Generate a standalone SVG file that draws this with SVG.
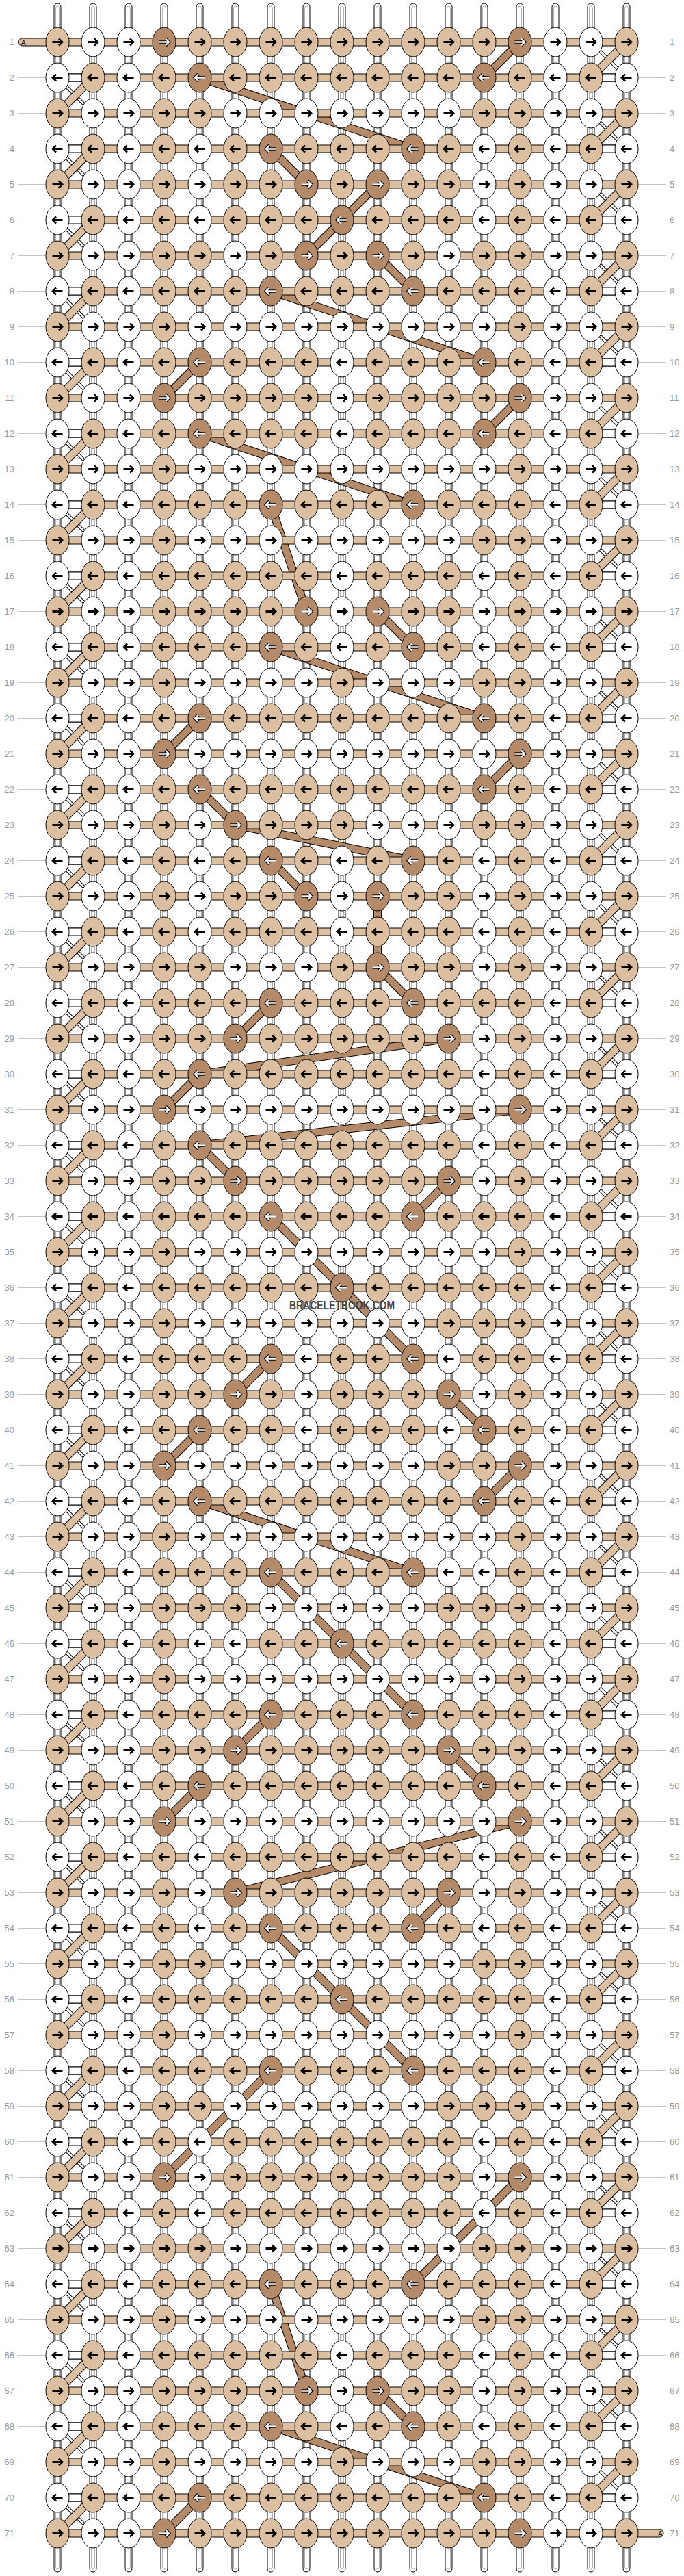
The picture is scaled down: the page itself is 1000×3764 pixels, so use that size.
<svg xmlns="http://www.w3.org/2000/svg" xmlns:xlink="http://www.w3.org/1999/xlink" width="1000" height="3764" viewBox="0 0 1000 3764">
<style>
.nt{fill:#dcbea0;stroke:#000;stroke-width:1}
.nw{fill:#fff;stroke:#000;stroke-width:1}
.nb{fill:#b48a69;stroke:#000;stroke-width:1}
.ak{fill:none;stroke:#000;stroke-width:2.8}
.ao{fill:none;stroke:#000;stroke-width:4.6}
.ai{fill:none;stroke:#fff;stroke-width:2.4}
.tb{fill:#dcbea0;stroke:#000;stroke-width:1}
.wb{fill:#fff;stroke:#000;stroke-width:1}
.sw{fill:#fff;stroke:#000;stroke-width:1}
.sg{fill:none;stroke:#b4b4b4;stroke-width:1}
.do{stroke:#000;stroke-width:12}
.di{stroke:#dcbea0;stroke-width:10}
.xo{stroke:#000;stroke-width:5}
.xi{stroke:#fff;stroke-width:3}
.bo{fill:none;stroke:#000;stroke-width:12}
.bi{fill:none;stroke:#b48a69;stroke-width:10}
.ll{fill:none;stroke:#c4c4c4;stroke-width:1}
.num{font-family:"Liberation Sans",Arial,sans-serif;font-size:13px;fill:#9a9a9a}
.lab{font-family:"Liberation Sans",Arial,sans-serif;font-size:10px;fill:#000}
.wm{font-family:"Liberation Sans",Arial,sans-serif;font-size:16px;font-weight:bold;fill:#454545}
</style>
<defs>
<g id="st"><rect x="-5" y="5" width="10" height="3753" rx="5" class="sw"/><rect x="-2.5" y="9" width="5" height="3745" rx="2.5" class="sg"/></g>
<path id="aR" d="M-7.5,0H6M2,-5L7,0L2,5"/>
<path id="aL" d="M7.5,0H-6M-2,-5L-7,0L-2,5"/>
<ellipse id="el" rx="17" ry="21.5"/>
<g id="t"><use href="#el" class="nt"/><use href="#aR" class="ak"/></g>
<g id="w"><use href="#el" class="nw"/><use href="#aR" class="ak"/></g>
<g id="b"><use href="#el" class="nb"/><use href="#aR" class="ao"/><use href="#aR" class="ai"/></g>
<g id="T"><use href="#el" class="nt"/><use href="#aL" class="ak"/></g>
<g id="W"><use href="#el" class="nw"/><use href="#aL" class="ak"/></g>
<g id="B"><use href="#el" class="nb"/><use href="#aL" class="ao"/><use href="#aL" class="ai"/></g>
<rect id="hb" x="84" y="-5.5" width="832" height="11" class="tb"/>
<g id="he"><use href="#hb"/><rect x="84" y="-5.5" width="52" height="11" class="wb"/><rect x="864" y="-5.5" width="52" height="11" class="wb"/></g>
<g id="dl"><line x1="92" y1="8" x2="128" y2="44" class="xo"/><line x1="92" y1="8" x2="128" y2="44" class="xi"/><line x1="136" y1="0" x2="84" y2="52" class="do"/><line x1="136" y1="0" x2="84" y2="52" class="di"/></g>
<g id="dr"><line x1="872" y1="8" x2="908" y2="44" class="xo"/><line x1="872" y1="8" x2="908" y2="44" class="xi"/><line x1="916" y1="0" x2="864" y2="52" class="do"/><line x1="916" y1="0" x2="864" y2="52" class="di"/></g>
<path id="bp" d="M760,61.5L708,113.5M292,113.5L604,217.5M396,217.5L448,269.5M552,269.5L500,321.5L448,373.5M552,373.5L604,425.5M396,425.5L708,529.5M292,529.5L240,581.5M760,581.5L708,633.5M292,633.5L604,737.5M396,737.5L448,893.5M552,893.5L604,945.5M396,945.5L708,1049.5M292,1049.5L240,1101.5M760,1101.5L708,1153.5M292,1153.5L344,1205.5L604,1257.5M396,1257.5L448,1309.5M552,1309.5L552,1413.5L604,1465.5M396,1465.5L344,1517.5M656,1517.5L292,1569.5L240,1621.5M760,1621.5L292,1673.5L344,1725.5M656,1725.5L604,1777.5M396,1777.5L500,1881.5L604,1985.5M396,1985.5L344,2037.5M656,2037.5L708,2089.5M292,2089.5L240,2141.5M760,2141.5L708,2193.5M292,2193.5L604,2297.5M396,2297.5L500,2401.5L604,2505.5M396,2505.5L344,2557.5M656,2557.5L708,2609.5M292,2609.5L240,2661.5M760,2661.5L344,2765.5M656,2765.5L604,2817.5M396,2817.5L500,2921.5L604,3025.5M396,3025.5L240,3181.5M760,3181.5L604,3337.5M396,3337.5L448,3493.5M552,3493.5L604,3545.5M396,3545.5L708,3649.5M292,3649.5L240,3701.5"/>
</defs>
<rect width="1000" height="3764" fill="#fff"/>
<g id="labels">
<path class="ll" d="M26,113.5h41m-41,52h41m-41,52h41m-41,52h41m-41,52h41m-41,52h41m-41,52h41m-41,52h41m-41,52h41m-41,52h41m-41,52h41m-41,52h41m-41,52h41m-41,52h41m-41,52h41m-41,52h41m-41,52h41m-41,52h41m-41,52h41m-41,52h41m-41,52h41m-41,52h41m-41,52h41m-41,52h41m-41,52h41m-41,52h41m-41,52h41m-41,52h41m-41,52h41m-41,52h41m-41,52h41m-41,52h41m-41,52h41m-41,52h41m-41,52h41m-41,52h41m-41,52h41m-41,52h41m-41,52h41m-41,52h41m-41,52h41m-41,52h41m-41,52h41m-41,52h41m-41,52h41m-41,52h41m-41,52h41m-41,52h41m-41,52h41m-41,52h41m-41,52h41m-41,52h41m-41,52h41m-41,52h41m-41,52h41m-41,52h41m-41,52h41m-41,52h41m-41,52h41m-41,52h41m-41,52h41m-41,52h41m-41,52h41m-41,52h41m-41,52h41m-41,52h41m-41,52h41m-41,52h41"/>
<path class="ll" d="M933,61.5h40m-40,52h40m-40,52h40m-40,52h40m-40,52h40m-40,52h40m-40,52h40m-40,52h40m-40,52h40m-40,52h40m-40,52h40m-40,52h40m-40,52h40m-40,52h40m-40,52h40m-40,52h40m-40,52h40m-40,52h40m-40,52h40m-40,52h40m-40,52h40m-40,52h40m-40,52h40m-40,52h40m-40,52h40m-40,52h40m-40,52h40m-40,52h40m-40,52h40m-40,52h40m-40,52h40m-40,52h40m-40,52h40m-40,52h40m-40,52h40m-40,52h40m-40,52h40m-40,52h40m-40,52h40m-40,52h40m-40,52h40m-40,52h40m-40,52h40m-40,52h40m-40,52h40m-40,52h40m-40,52h40m-40,52h40m-40,52h40m-40,52h40m-40,52h40m-40,52h40m-40,52h40m-40,52h40m-40,52h40m-40,52h40m-40,52h40m-40,52h40m-40,52h40m-40,52h40m-40,52h40m-40,52h40m-40,52h40m-40,52h40m-40,52h40m-40,52h40m-40,52h40"/>
<g class="num" text-anchor="end">
<text x="21" y="66">1</text><text x="21" y="118">2</text><text x="21" y="170">3</text><text x="21" y="222">4</text><text x="21" y="274">5</text><text x="21" y="326">6</text><text x="21" y="378">7</text><text x="21" y="430">8</text><text x="21" y="482">9</text><text x="21" y="534">10</text><text x="21" y="586">11</text><text x="21" y="638">12</text><text x="21" y="690">13</text><text x="21" y="742">14</text><text x="21" y="794">15</text><text x="21" y="846">16</text><text x="21" y="898">17</text><text x="21" y="950">18</text><text x="21" y="1002">19</text><text x="21" y="1054">20</text><text x="21" y="1106">21</text><text x="21" y="1158">22</text><text x="21" y="1210">23</text><text x="21" y="1262">24</text><text x="21" y="1314">25</text><text x="21" y="1366">26</text><text x="21" y="1418">27</text><text x="21" y="1470">28</text><text x="21" y="1522">29</text><text x="21" y="1574">30</text><text x="21" y="1626">31</text><text x="21" y="1678">32</text><text x="21" y="1730">33</text><text x="21" y="1782">34</text><text x="21" y="1834">35</text><text x="21" y="1886">36</text><text x="21" y="1938">37</text><text x="21" y="1990">38</text><text x="21" y="2042">39</text><text x="21" y="2094">40</text><text x="21" y="2146">41</text><text x="21" y="2198">42</text><text x="21" y="2250">43</text><text x="21" y="2302">44</text><text x="21" y="2354">45</text><text x="21" y="2406">46</text><text x="21" y="2458">47</text><text x="21" y="2510">48</text><text x="21" y="2562">49</text><text x="21" y="2614">50</text><text x="21" y="2666">51</text><text x="21" y="2718">52</text><text x="21" y="2770">53</text><text x="21" y="2822">54</text><text x="21" y="2874">55</text><text x="21" y="2926">56</text><text x="21" y="2978">57</text><text x="21" y="3030">58</text><text x="21" y="3082">59</text><text x="21" y="3134">60</text><text x="21" y="3186">61</text><text x="21" y="3238">62</text><text x="21" y="3290">63</text><text x="21" y="3342">64</text><text x="21" y="3394">65</text><text x="21" y="3446">66</text><text x="21" y="3498">67</text><text x="21" y="3550">68</text><text x="21" y="3602">69</text><text x="21" y="3654">70</text><text x="21" y="3706">71</text>
</g>
<g class="num">
<text x="979" y="66">1</text><text x="979" y="118">2</text><text x="979" y="170">3</text><text x="979" y="222">4</text><text x="979" y="274">5</text><text x="979" y="326">6</text><text x="979" y="378">7</text><text x="979" y="430">8</text><text x="979" y="482">9</text><text x="979" y="534">10</text><text x="979" y="586">11</text><text x="979" y="638">12</text><text x="979" y="690">13</text><text x="979" y="742">14</text><text x="979" y="794">15</text><text x="979" y="846">16</text><text x="979" y="898">17</text><text x="979" y="950">18</text><text x="979" y="1002">19</text><text x="979" y="1054">20</text><text x="979" y="1106">21</text><text x="979" y="1158">22</text><text x="979" y="1210">23</text><text x="979" y="1262">24</text><text x="979" y="1314">25</text><text x="979" y="1366">26</text><text x="979" y="1418">27</text><text x="979" y="1470">28</text><text x="979" y="1522">29</text><text x="979" y="1574">30</text><text x="979" y="1626">31</text><text x="979" y="1678">32</text><text x="979" y="1730">33</text><text x="979" y="1782">34</text><text x="979" y="1834">35</text><text x="979" y="1886">36</text><text x="979" y="1938">37</text><text x="979" y="1990">38</text><text x="979" y="2042">39</text><text x="979" y="2094">40</text><text x="979" y="2146">41</text><text x="979" y="2198">42</text><text x="979" y="2250">43</text><text x="979" y="2302">44</text><text x="979" y="2354">45</text><text x="979" y="2406">46</text><text x="979" y="2458">47</text><text x="979" y="2510">48</text><text x="979" y="2562">49</text><text x="979" y="2614">50</text><text x="979" y="2666">51</text><text x="979" y="2718">52</text><text x="979" y="2770">53</text><text x="979" y="2822">54</text><text x="979" y="2874">55</text><text x="979" y="2926">56</text><text x="979" y="2978">57</text><text x="979" y="3030">58</text><text x="979" y="3082">59</text><text x="979" y="3134">60</text><text x="979" y="3186">61</text><text x="979" y="3238">62</text><text x="979" y="3290">63</text><text x="979" y="3342">64</text><text x="979" y="3394">65</text><text x="979" y="3446">66</text><text x="979" y="3498">67</text><text x="979" y="3550">68</text><text x="979" y="3602">69</text><text x="979" y="3654">70</text><text x="979" y="3706">71</text>
</g>
</g>
<g id="connectors">
<g id="strands"><use href="#st" x="84"/><use href="#st" x="136"/><use href="#st" x="188"/><use href="#st" x="240"/><use href="#st" x="292"/><use href="#st" x="344"/><use href="#st" x="396"/><use href="#st" x="448"/><use href="#st" x="500"/><use href="#st" x="552"/><use href="#st" x="604"/><use href="#st" x="656"/><use href="#st" x="708"/><use href="#st" x="760"/><use href="#st" x="812"/><use href="#st" x="864"/><use href="#st" x="916"/></g>
<g id="brown"><use href="#bp" class="bo"/><use href="#bp" class="bi"/></g>
<g id="bands">
<rect x="27" y="56" width="62" height="11" rx="5.5" class="tb"/><rect x="911" y="3696" width="59" height="11" rx="5.5" class="tb"/>
<use href="#hb" y="61.5"/><use href="#he" y="113.5"/><use href="#hb" y="165.5"/><use href="#he" y="217.5"/><use href="#hb" y="269.5"/><use href="#he" y="321.5"/><use href="#hb" y="373.5"/><use href="#he" y="425.5"/><use href="#hb" y="477.5"/><use href="#he" y="529.5"/><use href="#hb" y="581.5"/><use href="#he" y="633.5"/><use href="#hb" y="685.5"/><use href="#he" y="737.5"/><use href="#hb" y="789.5"/><use href="#he" y="841.5"/><use href="#hb" y="893.5"/><use href="#he" y="945.5"/><use href="#hb" y="997.5"/><use href="#he" y="1049.5"/><use href="#hb" y="1101.5"/><use href="#he" y="1153.5"/><use href="#hb" y="1205.5"/><use href="#he" y="1257.5"/><use href="#hb" y="1309.5"/><use href="#he" y="1361.5"/><use href="#hb" y="1413.5"/><use href="#he" y="1465.5"/><use href="#hb" y="1517.5"/><use href="#he" y="1569.5"/><use href="#hb" y="1621.5"/><use href="#he" y="1673.5"/><use href="#hb" y="1725.5"/><use href="#he" y="1777.5"/><use href="#hb" y="1829.5"/><use href="#he" y="1881.5"/><use href="#hb" y="1933.5"/><use href="#he" y="1985.5"/><use href="#hb" y="2037.5"/><use href="#he" y="2089.5"/><use href="#hb" y="2141.5"/><use href="#he" y="2193.5"/><use href="#hb" y="2245.5"/><use href="#he" y="2297.5"/><use href="#hb" y="2349.5"/><use href="#he" y="2401.5"/><use href="#hb" y="2453.5"/><use href="#he" y="2505.5"/><use href="#hb" y="2557.5"/><use href="#he" y="2609.5"/><use href="#hb" y="2661.5"/><use href="#he" y="2713.5"/><use href="#hb" y="2765.5"/><use href="#he" y="2817.5"/><use href="#hb" y="2869.5"/><use href="#he" y="2921.5"/><use href="#hb" y="2973.5"/><use href="#he" y="3025.5"/><use href="#hb" y="3077.5"/><use href="#he" y="3129.5"/><use href="#hb" y="3181.5"/><use href="#he" y="3233.5"/><use href="#hb" y="3285.5"/><use href="#he" y="3337.5"/><use href="#hb" y="3389.5"/><use href="#he" y="3441.5"/><use href="#hb" y="3493.5"/><use href="#he" y="3545.5"/><use href="#hb" y="3597.5"/><use href="#he" y="3649.5"/><use href="#hb" y="3701.5"/>
<text x="31" y="65.5" class="lab">A</text><text x="962" y="3705.5" class="lab">A</text>
</g>
<g id="edges">
<use href="#dr" y="61.5"/><use href="#dl" y="113.5"/><use href="#dr" y="165.5"/><use href="#dl" y="217.5"/><use href="#dr" y="269.5"/><use href="#dl" y="321.5"/><use href="#dr" y="373.5"/><use href="#dl" y="425.5"/><use href="#dr" y="477.5"/><use href="#dl" y="529.5"/><use href="#dr" y="581.5"/><use href="#dl" y="633.5"/><use href="#dr" y="685.5"/><use href="#dl" y="737.5"/><use href="#dr" y="789.5"/><use href="#dl" y="841.5"/><use href="#dr" y="893.5"/><use href="#dl" y="945.5"/><use href="#dr" y="997.5"/><use href="#dl" y="1049.5"/><use href="#dr" y="1101.5"/><use href="#dl" y="1153.5"/><use href="#dr" y="1205.5"/><use href="#dl" y="1257.5"/><use href="#dr" y="1309.5"/><use href="#dl" y="1361.5"/><use href="#dr" y="1413.5"/><use href="#dl" y="1465.5"/><use href="#dr" y="1517.5"/><use href="#dl" y="1569.5"/><use href="#dr" y="1621.5"/><use href="#dl" y="1673.5"/><use href="#dr" y="1725.5"/><use href="#dl" y="1777.5"/><use href="#dr" y="1829.5"/><use href="#dl" y="1881.5"/><use href="#dr" y="1933.5"/><use href="#dl" y="1985.5"/><use href="#dr" y="2037.5"/><use href="#dl" y="2089.5"/><use href="#dr" y="2141.5"/><use href="#dl" y="2193.5"/><use href="#dr" y="2245.5"/><use href="#dl" y="2297.5"/><use href="#dr" y="2349.5"/><use href="#dl" y="2401.5"/><use href="#dr" y="2453.5"/><use href="#dl" y="2505.5"/><use href="#dr" y="2557.5"/><use href="#dl" y="2609.5"/><use href="#dr" y="2661.5"/><use href="#dl" y="2713.5"/><use href="#dr" y="2765.5"/><use href="#dl" y="2817.5"/><use href="#dr" y="2869.5"/><use href="#dl" y="2921.5"/><use href="#dr" y="2973.5"/><use href="#dl" y="3025.5"/><use href="#dr" y="3077.5"/><use href="#dl" y="3129.5"/><use href="#dr" y="3181.5"/><use href="#dl" y="3233.5"/><use href="#dr" y="3285.5"/><use href="#dl" y="3337.5"/><use href="#dr" y="3389.5"/><use href="#dl" y="3441.5"/><use href="#dr" y="3493.5"/><use href="#dl" y="3545.5"/><use href="#dr" y="3597.5"/><use href="#dl" y="3649.5"/>
</g>
</g>
<g id="nodes">
<g id="r1" transform="translate(0,61.5)"><g id="n1-1"><use href="#t" x="84"/></g><g id="n1-2"><use href="#w" x="136"/></g><g id="n1-3"><use href="#w" x="188"/></g><g id="n1-4"><use href="#b" x="240"/></g><g id="n1-5"><use href="#t" x="292"/></g><g id="n1-6"><use href="#t" x="344"/></g><g id="n1-7"><use href="#t" x="396"/></g><g id="n1-8"><use href="#t" x="448"/></g><g id="n1-9"><use href="#t" x="500"/></g><g id="n1-10"><use href="#t" x="552"/></g><g id="n1-11"><use href="#t" x="604"/></g><g id="n1-12"><use href="#t" x="656"/></g><g id="n1-13"><use href="#t" x="708"/></g><g id="n1-14"><use href="#b" x="760"/></g><g id="n1-15"><use href="#w" x="812"/></g><g id="n1-16"><use href="#w" x="864"/></g><g id="n1-17"><use href="#t" x="916"/></g></g>
<g id="r2" transform="translate(0,113.5)"><g id="n2-1"><use href="#W" x="84"/></g><g id="n2-2"><use href="#T" x="136"/></g><g id="n2-3"><use href="#W" x="188"/></g><g id="n2-4"><use href="#T" x="240"/></g><g id="n2-5"><use href="#B" x="292"/></g><g id="n2-6"><use href="#T" x="344"/></g><g id="n2-7"><use href="#T" x="396"/></g><g id="n2-8"><use href="#T" x="448"/></g><g id="n2-9"><use href="#T" x="500"/></g><g id="n2-10"><use href="#T" x="552"/></g><g id="n2-11"><use href="#T" x="604"/></g><g id="n2-12"><use href="#T" x="656"/></g><g id="n2-13"><use href="#B" x="708"/></g><g id="n2-14"><use href="#T" x="760"/></g><g id="n2-15"><use href="#W" x="812"/></g><g id="n2-16"><use href="#T" x="864"/></g><g id="n2-17"><use href="#W" x="916"/></g></g>
<g id="r3" transform="translate(0,165.5)"><g id="n3-1"><use href="#t" x="84"/></g><g id="n3-2"><use href="#w" x="136"/></g><g id="n3-3"><use href="#w" x="188"/></g><g id="n3-4"><use href="#t" x="240"/></g><g id="n3-5"><use href="#t" x="292"/></g><g id="n3-6"><use href="#w" x="344"/></g><g id="n3-7"><use href="#w" x="396"/></g><g id="n3-8"><use href="#w" x="448"/></g><g id="n3-9"><use href="#w" x="500"/></g><g id="n3-10"><use href="#w" x="552"/></g><g id="n3-11"><use href="#w" x="604"/></g><g id="n3-12"><use href="#w" x="656"/></g><g id="n3-13"><use href="#t" x="708"/></g><g id="n3-14"><use href="#t" x="760"/></g><g id="n3-15"><use href="#w" x="812"/></g><g id="n3-16"><use href="#w" x="864"/></g><g id="n3-17"><use href="#t" x="916"/></g></g>
<g id="r4" transform="translate(0,217.5)"><g id="n4-1"><use href="#W" x="84"/></g><g id="n4-2"><use href="#T" x="136"/></g><g id="n4-3"><use href="#W" x="188"/></g><g id="n4-4"><use href="#T" x="240"/></g><g id="n4-5"><use href="#W" x="292"/></g><g id="n4-6"><use href="#T" x="344"/></g><g id="n4-7"><use href="#B" x="396"/></g><g id="n4-8"><use href="#T" x="448"/></g><g id="n4-9"><use href="#T" x="500"/></g><g id="n4-10"><use href="#T" x="552"/></g><g id="n4-11"><use href="#B" x="604"/></g><g id="n4-12"><use href="#T" x="656"/></g><g id="n4-13"><use href="#W" x="708"/></g><g id="n4-14"><use href="#T" x="760"/></g><g id="n4-15"><use href="#W" x="812"/></g><g id="n4-16"><use href="#T" x="864"/></g><g id="n4-17"><use href="#W" x="916"/></g></g>
<g id="r5" transform="translate(0,269.5)"><g id="n5-1"><use href="#t" x="84"/></g><g id="n5-2"><use href="#w" x="136"/></g><g id="n5-3"><use href="#w" x="188"/></g><g id="n5-4"><use href="#t" x="240"/></g><g id="n5-5"><use href="#w" x="292"/></g><g id="n5-6"><use href="#t" x="344"/></g><g id="n5-7"><use href="#t" x="396"/></g><g id="n5-8"><use href="#b" x="448"/></g><g id="n5-9"><use href="#t" x="500"/></g><g id="n5-10"><use href="#b" x="552"/></g><g id="n5-11"><use href="#t" x="604"/></g><g id="n5-12"><use href="#t" x="656"/></g><g id="n5-13"><use href="#w" x="708"/></g><g id="n5-14"><use href="#t" x="760"/></g><g id="n5-15"><use href="#w" x="812"/></g><g id="n5-16"><use href="#w" x="864"/></g><g id="n5-17"><use href="#t" x="916"/></g></g>
<g id="r6" transform="translate(0,321.5)"><g id="n6-1"><use href="#W" x="84"/></g><g id="n6-2"><use href="#T" x="136"/></g><g id="n6-3"><use href="#W" x="188"/></g><g id="n6-4"><use href="#T" x="240"/></g><g id="n6-5"><use href="#W" x="292"/></g><g id="n6-6"><use href="#T" x="344"/></g><g id="n6-7"><use href="#T" x="396"/></g><g id="n6-8"><use href="#T" x="448"/></g><g id="n6-9"><use href="#B" x="500"/></g><g id="n6-10"><use href="#T" x="552"/></g><g id="n6-11"><use href="#T" x="604"/></g><g id="n6-12"><use href="#T" x="656"/></g><g id="n6-13"><use href="#W" x="708"/></g><g id="n6-14"><use href="#T" x="760"/></g><g id="n6-15"><use href="#W" x="812"/></g><g id="n6-16"><use href="#T" x="864"/></g><g id="n6-17"><use href="#W" x="916"/></g></g>
<g id="r7" transform="translate(0,373.5)"><g id="n7-1"><use href="#t" x="84"/></g><g id="n7-2"><use href="#w" x="136"/></g><g id="n7-3"><use href="#w" x="188"/></g><g id="n7-4"><use href="#t" x="240"/></g><g id="n7-5"><use href="#t" x="292"/></g><g id="n7-6"><use href="#w" x="344"/></g><g id="n7-7"><use href="#t" x="396"/></g><g id="n7-8"><use href="#b" x="448"/></g><g id="n7-9"><use href="#t" x="500"/></g><g id="n7-10"><use href="#b" x="552"/></g><g id="n7-11"><use href="#t" x="604"/></g><g id="n7-12"><use href="#w" x="656"/></g><g id="n7-13"><use href="#t" x="708"/></g><g id="n7-14"><use href="#t" x="760"/></g><g id="n7-15"><use href="#w" x="812"/></g><g id="n7-16"><use href="#w" x="864"/></g><g id="n7-17"><use href="#t" x="916"/></g></g>
<g id="r8" transform="translate(0,425.5)"><g id="n8-1"><use href="#W" x="84"/></g><g id="n8-2"><use href="#T" x="136"/></g><g id="n8-3"><use href="#W" x="188"/></g><g id="n8-4"><use href="#T" x="240"/></g><g id="n8-5"><use href="#T" x="292"/></g><g id="n8-6"><use href="#T" x="344"/></g><g id="n8-7"><use href="#B" x="396"/></g><g id="n8-8"><use href="#T" x="448"/></g><g id="n8-9"><use href="#T" x="500"/></g><g id="n8-10"><use href="#T" x="552"/></g><g id="n8-11"><use href="#B" x="604"/></g><g id="n8-12"><use href="#T" x="656"/></g><g id="n8-13"><use href="#T" x="708"/></g><g id="n8-14"><use href="#T" x="760"/></g><g id="n8-15"><use href="#W" x="812"/></g><g id="n8-16"><use href="#T" x="864"/></g><g id="n8-17"><use href="#W" x="916"/></g></g>
<g id="r9" transform="translate(0,477.5)"><g id="n9-1"><use href="#t" x="84"/></g><g id="n9-2"><use href="#w" x="136"/></g><g id="n9-3"><use href="#w" x="188"/></g><g id="n9-4"><use href="#t" x="240"/></g><g id="n9-5"><use href="#w" x="292"/></g><g id="n9-6"><use href="#w" x="344"/></g><g id="n9-7"><use href="#w" x="396"/></g><g id="n9-8"><use href="#w" x="448"/></g><g id="n9-9"><use href="#w" x="500"/></g><g id="n9-10"><use href="#w" x="552"/></g><g id="n9-11"><use href="#w" x="604"/></g><g id="n9-12"><use href="#w" x="656"/></g><g id="n9-13"><use href="#w" x="708"/></g><g id="n9-14"><use href="#t" x="760"/></g><g id="n9-15"><use href="#w" x="812"/></g><g id="n9-16"><use href="#w" x="864"/></g><g id="n9-17"><use href="#t" x="916"/></g></g>
<g id="r10" transform="translate(0,529.5)"><g id="n10-1"><use href="#W" x="84"/></g><g id="n10-2"><use href="#T" x="136"/></g><g id="n10-3"><use href="#W" x="188"/></g><g id="n10-4"><use href="#T" x="240"/></g><g id="n10-5"><use href="#B" x="292"/></g><g id="n10-6"><use href="#T" x="344"/></g><g id="n10-7"><use href="#T" x="396"/></g><g id="n10-8"><use href="#T" x="448"/></g><g id="n10-9"><use href="#W" x="500"/></g><g id="n10-10"><use href="#T" x="552"/></g><g id="n10-11"><use href="#T" x="604"/></g><g id="n10-12"><use href="#T" x="656"/></g><g id="n10-13"><use href="#B" x="708"/></g><g id="n10-14"><use href="#T" x="760"/></g><g id="n10-15"><use href="#W" x="812"/></g><g id="n10-16"><use href="#T" x="864"/></g><g id="n10-17"><use href="#W" x="916"/></g></g>
<g id="r11" transform="translate(0,581.5)"><g id="n11-1"><use href="#t" x="84"/></g><g id="n11-2"><use href="#w" x="136"/></g><g id="n11-3"><use href="#w" x="188"/></g><g id="n11-4"><use href="#b" x="240"/></g><g id="n11-5"><use href="#t" x="292"/></g><g id="n11-6"><use href="#t" x="344"/></g><g id="n11-7"><use href="#t" x="396"/></g><g id="n11-8"><use href="#t" x="448"/></g><g id="n11-9"><use href="#w" x="500"/></g><g id="n11-10"><use href="#t" x="552"/></g><g id="n11-11"><use href="#t" x="604"/></g><g id="n11-12"><use href="#t" x="656"/></g><g id="n11-13"><use href="#t" x="708"/></g><g id="n11-14"><use href="#b" x="760"/></g><g id="n11-15"><use href="#w" x="812"/></g><g id="n11-16"><use href="#w" x="864"/></g><g id="n11-17"><use href="#t" x="916"/></g></g>
<g id="r12" transform="translate(0,633.5)"><g id="n12-1"><use href="#W" x="84"/></g><g id="n12-2"><use href="#T" x="136"/></g><g id="n12-3"><use href="#W" x="188"/></g><g id="n12-4"><use href="#T" x="240"/></g><g id="n12-5"><use href="#B" x="292"/></g><g id="n12-6"><use href="#T" x="344"/></g><g id="n12-7"><use href="#T" x="396"/></g><g id="n12-8"><use href="#T" x="448"/></g><g id="n12-9"><use href="#W" x="500"/></g><g id="n12-10"><use href="#T" x="552"/></g><g id="n12-11"><use href="#T" x="604"/></g><g id="n12-12"><use href="#T" x="656"/></g><g id="n12-13"><use href="#B" x="708"/></g><g id="n12-14"><use href="#T" x="760"/></g><g id="n12-15"><use href="#W" x="812"/></g><g id="n12-16"><use href="#T" x="864"/></g><g id="n12-17"><use href="#W" x="916"/></g></g>
<g id="r13" transform="translate(0,685.5)"><g id="n13-1"><use href="#t" x="84"/></g><g id="n13-2"><use href="#w" x="136"/></g><g id="n13-3"><use href="#w" x="188"/></g><g id="n13-4"><use href="#t" x="240"/></g><g id="n13-5"><use href="#w" x="292"/></g><g id="n13-6"><use href="#w" x="344"/></g><g id="n13-7"><use href="#w" x="396"/></g><g id="n13-8"><use href="#w" x="448"/></g><g id="n13-9"><use href="#w" x="500"/></g><g id="n13-10"><use href="#w" x="552"/></g><g id="n13-11"><use href="#w" x="604"/></g><g id="n13-12"><use href="#w" x="656"/></g><g id="n13-13"><use href="#w" x="708"/></g><g id="n13-14"><use href="#t" x="760"/></g><g id="n13-15"><use href="#w" x="812"/></g><g id="n13-16"><use href="#w" x="864"/></g><g id="n13-17"><use href="#t" x="916"/></g></g>
<g id="r14" transform="translate(0,737.5)"><g id="n14-1"><use href="#W" x="84"/></g><g id="n14-2"><use href="#T" x="136"/></g><g id="n14-3"><use href="#W" x="188"/></g><g id="n14-4"><use href="#T" x="240"/></g><g id="n14-5"><use href="#T" x="292"/></g><g id="n14-6"><use href="#T" x="344"/></g><g id="n14-7"><use href="#B" x="396"/></g><g id="n14-8"><use href="#T" x="448"/></g><g id="n14-9"><use href="#T" x="500"/></g><g id="n14-10"><use href="#T" x="552"/></g><g id="n14-11"><use href="#B" x="604"/></g><g id="n14-12"><use href="#T" x="656"/></g><g id="n14-13"><use href="#T" x="708"/></g><g id="n14-14"><use href="#T" x="760"/></g><g id="n14-15"><use href="#W" x="812"/></g><g id="n14-16"><use href="#T" x="864"/></g><g id="n14-17"><use href="#W" x="916"/></g></g>
<g id="r15" transform="translate(0,789.5)"><g id="n15-1"><use href="#t" x="84"/></g><g id="n15-2"><use href="#w" x="136"/></g><g id="n15-3"><use href="#w" x="188"/></g><g id="n15-4"><use href="#t" x="240"/></g><g id="n15-5"><use href="#w" x="292"/></g><g id="n15-6"><use href="#w" x="344"/></g><g id="n15-7"><use href="#w" x="396"/></g><g id="n15-8"><use href="#w" x="448"/></g><g id="n15-9"><use href="#w" x="500"/></g><g id="n15-10"><use href="#w" x="552"/></g><g id="n15-11"><use href="#w" x="604"/></g><g id="n15-12"><use href="#w" x="656"/></g><g id="n15-13"><use href="#t" x="708"/></g><g id="n15-14"><use href="#t" x="760"/></g><g id="n15-15"><use href="#w" x="812"/></g><g id="n15-16"><use href="#w" x="864"/></g><g id="n15-17"><use href="#t" x="916"/></g></g>
<g id="r16" transform="translate(0,841.5)"><g id="n16-1"><use href="#W" x="84"/></g><g id="n16-2"><use href="#T" x="136"/></g><g id="n16-3"><use href="#W" x="188"/></g><g id="n16-4"><use href="#T" x="240"/></g><g id="n16-5"><use href="#T" x="292"/></g><g id="n16-6"><use href="#T" x="344"/></g><g id="n16-7"><use href="#T" x="396"/></g><g id="n16-8"><use href="#T" x="448"/></g><g id="n16-9"><use href="#W" x="500"/></g><g id="n16-10"><use href="#T" x="552"/></g><g id="n16-11"><use href="#T" x="604"/></g><g id="n16-12"><use href="#T" x="656"/></g><g id="n16-13"><use href="#W" x="708"/></g><g id="n16-14"><use href="#T" x="760"/></g><g id="n16-15"><use href="#W" x="812"/></g><g id="n16-16"><use href="#T" x="864"/></g><g id="n16-17"><use href="#W" x="916"/></g></g>
<g id="r17" transform="translate(0,893.5)"><g id="n17-1"><use href="#t" x="84"/></g><g id="n17-2"><use href="#w" x="136"/></g><g id="n17-3"><use href="#w" x="188"/></g><g id="n17-4"><use href="#t" x="240"/></g><g id="n17-5"><use href="#t" x="292"/></g><g id="n17-6"><use href="#t" x="344"/></g><g id="n17-7"><use href="#t" x="396"/></g><g id="n17-8"><use href="#b" x="448"/></g><g id="n17-9"><use href="#w" x="500"/></g><g id="n17-10"><use href="#b" x="552"/></g><g id="n17-11"><use href="#t" x="604"/></g><g id="n17-12"><use href="#t" x="656"/></g><g id="n17-13"><use href="#w" x="708"/></g><g id="n17-14"><use href="#t" x="760"/></g><g id="n17-15"><use href="#w" x="812"/></g><g id="n17-16"><use href="#w" x="864"/></g><g id="n17-17"><use href="#t" x="916"/></g></g>
<g id="r18" transform="translate(0,945.5)"><g id="n18-1"><use href="#W" x="84"/></g><g id="n18-2"><use href="#T" x="136"/></g><g id="n18-3"><use href="#W" x="188"/></g><g id="n18-4"><use href="#T" x="240"/></g><g id="n18-5"><use href="#T" x="292"/></g><g id="n18-6"><use href="#T" x="344"/></g><g id="n18-7"><use href="#B" x="396"/></g><g id="n18-8"><use href="#T" x="448"/></g><g id="n18-9"><use href="#W" x="500"/></g><g id="n18-10"><use href="#T" x="552"/></g><g id="n18-11"><use href="#B" x="604"/></g><g id="n18-12"><use href="#T" x="656"/></g><g id="n18-13"><use href="#W" x="708"/></g><g id="n18-14"><use href="#T" x="760"/></g><g id="n18-15"><use href="#W" x="812"/></g><g id="n18-16"><use href="#T" x="864"/></g><g id="n18-17"><use href="#W" x="916"/></g></g>
<g id="r19" transform="translate(0,997.5)"><g id="n19-1"><use href="#t" x="84"/></g><g id="n19-2"><use href="#w" x="136"/></g><g id="n19-3"><use href="#w" x="188"/></g><g id="n19-4"><use href="#t" x="240"/></g><g id="n19-5"><use href="#w" x="292"/></g><g id="n19-6"><use href="#w" x="344"/></g><g id="n19-7"><use href="#w" x="396"/></g><g id="n19-8"><use href="#w" x="448"/></g><g id="n19-9"><use href="#t" x="500"/></g><g id="n19-10"><use href="#w" x="552"/></g><g id="n19-11"><use href="#w" x="604"/></g><g id="n19-12"><use href="#w" x="656"/></g><g id="n19-13"><use href="#t" x="708"/></g><g id="n19-14"><use href="#t" x="760"/></g><g id="n19-15"><use href="#w" x="812"/></g><g id="n19-16"><use href="#w" x="864"/></g><g id="n19-17"><use href="#t" x="916"/></g></g>
<g id="r20" transform="translate(0,1049.5)"><g id="n20-1"><use href="#W" x="84"/></g><g id="n20-2"><use href="#T" x="136"/></g><g id="n20-3"><use href="#W" x="188"/></g><g id="n20-4"><use href="#T" x="240"/></g><g id="n20-5"><use href="#B" x="292"/></g><g id="n20-6"><use href="#T" x="344"/></g><g id="n20-7"><use href="#T" x="396"/></g><g id="n20-8"><use href="#T" x="448"/></g><g id="n20-9"><use href="#T" x="500"/></g><g id="n20-10"><use href="#T" x="552"/></g><g id="n20-11"><use href="#T" x="604"/></g><g id="n20-12"><use href="#T" x="656"/></g><g id="n20-13"><use href="#B" x="708"/></g><g id="n20-14"><use href="#T" x="760"/></g><g id="n20-15"><use href="#W" x="812"/></g><g id="n20-16"><use href="#T" x="864"/></g><g id="n20-17"><use href="#W" x="916"/></g></g>
<g id="r21" transform="translate(0,1101.5)"><g id="n21-1"><use href="#t" x="84"/></g><g id="n21-2"><use href="#w" x="136"/></g><g id="n21-3"><use href="#w" x="188"/></g><g id="n21-4"><use href="#b" x="240"/></g><g id="n21-5"><use href="#w" x="292"/></g><g id="n21-6"><use href="#w" x="344"/></g><g id="n21-7"><use href="#w" x="396"/></g><g id="n21-8"><use href="#w" x="448"/></g><g id="n21-9"><use href="#w" x="500"/></g><g id="n21-10"><use href="#w" x="552"/></g><g id="n21-11"><use href="#w" x="604"/></g><g id="n21-12"><use href="#w" x="656"/></g><g id="n21-13"><use href="#w" x="708"/></g><g id="n21-14"><use href="#b" x="760"/></g><g id="n21-15"><use href="#w" x="812"/></g><g id="n21-16"><use href="#w" x="864"/></g><g id="n21-17"><use href="#t" x="916"/></g></g>
<g id="r22" transform="translate(0,1153.5)"><g id="n22-1"><use href="#W" x="84"/></g><g id="n22-2"><use href="#T" x="136"/></g><g id="n22-3"><use href="#W" x="188"/></g><g id="n22-4"><use href="#T" x="240"/></g><g id="n22-5"><use href="#B" x="292"/></g><g id="n22-6"><use href="#T" x="344"/></g><g id="n22-7"><use href="#T" x="396"/></g><g id="n22-8"><use href="#T" x="448"/></g><g id="n22-9"><use href="#T" x="500"/></g><g id="n22-10"><use href="#T" x="552"/></g><g id="n22-11"><use href="#T" x="604"/></g><g id="n22-12"><use href="#T" x="656"/></g><g id="n22-13"><use href="#B" x="708"/></g><g id="n22-14"><use href="#T" x="760"/></g><g id="n22-15"><use href="#W" x="812"/></g><g id="n22-16"><use href="#T" x="864"/></g><g id="n22-17"><use href="#W" x="916"/></g></g>
<g id="r23" transform="translate(0,1205.5)"><g id="n23-1"><use href="#t" x="84"/></g><g id="n23-2"><use href="#w" x="136"/></g><g id="n23-3"><use href="#w" x="188"/></g><g id="n23-4"><use href="#t" x="240"/></g><g id="n23-5"><use href="#w" x="292"/></g><g id="n23-6"><use href="#b" x="344"/></g><g id="n23-7"><use href="#t" x="396"/></g><g id="n23-8"><use href="#t" x="448"/></g><g id="n23-9"><use href="#t" x="500"/></g><g id="n23-10"><use href="#w" x="552"/></g><g id="n23-11"><use href="#w" x="604"/></g><g id="n23-12"><use href="#w" x="656"/></g><g id="n23-13"><use href="#t" x="708"/></g><g id="n23-14"><use href="#t" x="760"/></g><g id="n23-15"><use href="#w" x="812"/></g><g id="n23-16"><use href="#w" x="864"/></g><g id="n23-17"><use href="#t" x="916"/></g></g>
<g id="r24" transform="translate(0,1257.5)"><g id="n24-1"><use href="#W" x="84"/></g><g id="n24-2"><use href="#T" x="136"/></g><g id="n24-3"><use href="#W" x="188"/></g><g id="n24-4"><use href="#T" x="240"/></g><g id="n24-5"><use href="#W" x="292"/></g><g id="n24-6"><use href="#T" x="344"/></g><g id="n24-7"><use href="#B" x="396"/></g><g id="n24-8"><use href="#T" x="448"/></g><g id="n24-9"><use href="#W" x="500"/></g><g id="n24-10"><use href="#T" x="552"/></g><g id="n24-11"><use href="#B" x="604"/></g><g id="n24-12"><use href="#T" x="656"/></g><g id="n24-13"><use href="#W" x="708"/></g><g id="n24-14"><use href="#T" x="760"/></g><g id="n24-15"><use href="#W" x="812"/></g><g id="n24-16"><use href="#T" x="864"/></g><g id="n24-17"><use href="#W" x="916"/></g></g>
<g id="r25" transform="translate(0,1309.5)"><g id="n25-1"><use href="#t" x="84"/></g><g id="n25-2"><use href="#w" x="136"/></g><g id="n25-3"><use href="#w" x="188"/></g><g id="n25-4"><use href="#t" x="240"/></g><g id="n25-5"><use href="#w" x="292"/></g><g id="n25-6"><use href="#t" x="344"/></g><g id="n25-7"><use href="#t" x="396"/></g><g id="n25-8"><use href="#b" x="448"/></g><g id="n25-9"><use href="#w" x="500"/></g><g id="n25-10"><use href="#b" x="552"/></g><g id="n25-11"><use href="#t" x="604"/></g><g id="n25-12"><use href="#t" x="656"/></g><g id="n25-13"><use href="#w" x="708"/></g><g id="n25-14"><use href="#t" x="760"/></g><g id="n25-15"><use href="#w" x="812"/></g><g id="n25-16"><use href="#w" x="864"/></g><g id="n25-17"><use href="#t" x="916"/></g></g>
<g id="r26" transform="translate(0,1361.5)"><g id="n26-1"><use href="#W" x="84"/></g><g id="n26-2"><use href="#T" x="136"/></g><g id="n26-3"><use href="#W" x="188"/></g><g id="n26-4"><use href="#T" x="240"/></g><g id="n26-5"><use href="#W" x="292"/></g><g id="n26-6"><use href="#T" x="344"/></g><g id="n26-7"><use href="#T" x="396"/></g><g id="n26-8"><use href="#T" x="448"/></g><g id="n26-9"><use href="#W" x="500"/></g><g id="n26-10"><use href="#T" x="552"/></g><g id="n26-11"><use href="#T" x="604"/></g><g id="n26-12"><use href="#T" x="656"/></g><g id="n26-13"><use href="#W" x="708"/></g><g id="n26-14"><use href="#T" x="760"/></g><g id="n26-15"><use href="#W" x="812"/></g><g id="n26-16"><use href="#T" x="864"/></g><g id="n26-17"><use href="#W" x="916"/></g></g>
<g id="r27" transform="translate(0,1413.5)"><g id="n27-1"><use href="#t" x="84"/></g><g id="n27-2"><use href="#w" x="136"/></g><g id="n27-3"><use href="#w" x="188"/></g><g id="n27-4"><use href="#t" x="240"/></g><g id="n27-5"><use href="#t" x="292"/></g><g id="n27-6"><use href="#w" x="344"/></g><g id="n27-7"><use href="#w" x="396"/></g><g id="n27-8"><use href="#w" x="448"/></g><g id="n27-9"><use href="#t" x="500"/></g><g id="n27-10"><use href="#b" x="552"/></g><g id="n27-11"><use href="#t" x="604"/></g><g id="n27-12"><use href="#t" x="656"/></g><g id="n27-13"><use href="#w" x="708"/></g><g id="n27-14"><use href="#t" x="760"/></g><g id="n27-15"><use href="#w" x="812"/></g><g id="n27-16"><use href="#w" x="864"/></g><g id="n27-17"><use href="#t" x="916"/></g></g>
<g id="r28" transform="translate(0,1465.5)"><g id="n28-1"><use href="#W" x="84"/></g><g id="n28-2"><use href="#T" x="136"/></g><g id="n28-3"><use href="#W" x="188"/></g><g id="n28-4"><use href="#T" x="240"/></g><g id="n28-5"><use href="#T" x="292"/></g><g id="n28-6"><use href="#T" x="344"/></g><g id="n28-7"><use href="#B" x="396"/></g><g id="n28-8"><use href="#T" x="448"/></g><g id="n28-9"><use href="#T" x="500"/></g><g id="n28-10"><use href="#T" x="552"/></g><g id="n28-11"><use href="#B" x="604"/></g><g id="n28-12"><use href="#T" x="656"/></g><g id="n28-13"><use href="#T" x="708"/></g><g id="n28-14"><use href="#T" x="760"/></g><g id="n28-15"><use href="#W" x="812"/></g><g id="n28-16"><use href="#T" x="864"/></g><g id="n28-17"><use href="#W" x="916"/></g></g>
<g id="r29" transform="translate(0,1517.5)"><g id="n29-1"><use href="#t" x="84"/></g><g id="n29-2"><use href="#w" x="136"/></g><g id="n29-3"><use href="#w" x="188"/></g><g id="n29-4"><use href="#t" x="240"/></g><g id="n29-5"><use href="#t" x="292"/></g><g id="n29-6"><use href="#b" x="344"/></g><g id="n29-7"><use href="#t" x="396"/></g><g id="n29-8"><use href="#t" x="448"/></g><g id="n29-9"><use href="#t" x="500"/></g><g id="n29-10"><use href="#t" x="552"/></g><g id="n29-11"><use href="#t" x="604"/></g><g id="n29-12"><use href="#b" x="656"/></g><g id="n29-13"><use href="#w" x="708"/></g><g id="n29-14"><use href="#t" x="760"/></g><g id="n29-15"><use href="#w" x="812"/></g><g id="n29-16"><use href="#w" x="864"/></g><g id="n29-17"><use href="#t" x="916"/></g></g>
<g id="r30" transform="translate(0,1569.5)"><g id="n30-1"><use href="#W" x="84"/></g><g id="n30-2"><use href="#T" x="136"/></g><g id="n30-3"><use href="#W" x="188"/></g><g id="n30-4"><use href="#T" x="240"/></g><g id="n30-5"><use href="#B" x="292"/></g><g id="n30-6"><use href="#T" x="344"/></g><g id="n30-7"><use href="#T" x="396"/></g><g id="n30-8"><use href="#T" x="448"/></g><g id="n30-9"><use href="#T" x="500"/></g><g id="n30-10"><use href="#T" x="552"/></g><g id="n30-11"><use href="#T" x="604"/></g><g id="n30-12"><use href="#T" x="656"/></g><g id="n30-13"><use href="#W" x="708"/></g><g id="n30-14"><use href="#T" x="760"/></g><g id="n30-15"><use href="#W" x="812"/></g><g id="n30-16"><use href="#T" x="864"/></g><g id="n30-17"><use href="#W" x="916"/></g></g>
<g id="r31" transform="translate(0,1621.5)"><g id="n31-1"><use href="#t" x="84"/></g><g id="n31-2"><use href="#w" x="136"/></g><g id="n31-3"><use href="#w" x="188"/></g><g id="n31-4"><use href="#b" x="240"/></g><g id="n31-5"><use href="#w" x="292"/></g><g id="n31-6"><use href="#w" x="344"/></g><g id="n31-7"><use href="#w" x="396"/></g><g id="n31-8"><use href="#w" x="448"/></g><g id="n31-9"><use href="#w" x="500"/></g><g id="n31-10"><use href="#w" x="552"/></g><g id="n31-11"><use href="#w" x="604"/></g><g id="n31-12"><use href="#w" x="656"/></g><g id="n31-13"><use href="#w" x="708"/></g><g id="n31-14"><use href="#b" x="760"/></g><g id="n31-15"><use href="#w" x="812"/></g><g id="n31-16"><use href="#w" x="864"/></g><g id="n31-17"><use href="#t" x="916"/></g></g>
<g id="r32" transform="translate(0,1673.5)"><g id="n32-1"><use href="#W" x="84"/></g><g id="n32-2"><use href="#T" x="136"/></g><g id="n32-3"><use href="#W" x="188"/></g><g id="n32-4"><use href="#T" x="240"/></g><g id="n32-5"><use href="#B" x="292"/></g><g id="n32-6"><use href="#T" x="344"/></g><g id="n32-7"><use href="#T" x="396"/></g><g id="n32-8"><use href="#T" x="448"/></g><g id="n32-9"><use href="#T" x="500"/></g><g id="n32-10"><use href="#T" x="552"/></g><g id="n32-11"><use href="#T" x="604"/></g><g id="n32-12"><use href="#T" x="656"/></g><g id="n32-13"><use href="#W" x="708"/></g><g id="n32-14"><use href="#T" x="760"/></g><g id="n32-15"><use href="#W" x="812"/></g><g id="n32-16"><use href="#T" x="864"/></g><g id="n32-17"><use href="#W" x="916"/></g></g>
<g id="r33" transform="translate(0,1725.5)"><g id="n33-1"><use href="#t" x="84"/></g><g id="n33-2"><use href="#w" x="136"/></g><g id="n33-3"><use href="#w" x="188"/></g><g id="n33-4"><use href="#t" x="240"/></g><g id="n33-5"><use href="#t" x="292"/></g><g id="n33-6"><use href="#b" x="344"/></g><g id="n33-7"><use href="#t" x="396"/></g><g id="n33-8"><use href="#t" x="448"/></g><g id="n33-9"><use href="#t" x="500"/></g><g id="n33-10"><use href="#t" x="552"/></g><g id="n33-11"><use href="#t" x="604"/></g><g id="n33-12"><use href="#b" x="656"/></g><g id="n33-13"><use href="#w" x="708"/></g><g id="n33-14"><use href="#t" x="760"/></g><g id="n33-15"><use href="#w" x="812"/></g><g id="n33-16"><use href="#w" x="864"/></g><g id="n33-17"><use href="#t" x="916"/></g></g>
<g id="r34" transform="translate(0,1777.5)"><g id="n34-1"><use href="#W" x="84"/></g><g id="n34-2"><use href="#T" x="136"/></g><g id="n34-3"><use href="#W" x="188"/></g><g id="n34-4"><use href="#T" x="240"/></g><g id="n34-5"><use href="#T" x="292"/></g><g id="n34-6"><use href="#T" x="344"/></g><g id="n34-7"><use href="#B" x="396"/></g><g id="n34-8"><use href="#T" x="448"/></g><g id="n34-9"><use href="#T" x="500"/></g><g id="n34-10"><use href="#T" x="552"/></g><g id="n34-11"><use href="#B" x="604"/></g><g id="n34-12"><use href="#T" x="656"/></g><g id="n34-13"><use href="#T" x="708"/></g><g id="n34-14"><use href="#T" x="760"/></g><g id="n34-15"><use href="#W" x="812"/></g><g id="n34-16"><use href="#T" x="864"/></g><g id="n34-17"><use href="#W" x="916"/></g></g>
<g id="r35" transform="translate(0,1829.5)"><g id="n35-1"><use href="#t" x="84"/></g><g id="n35-2"><use href="#w" x="136"/></g><g id="n35-3"><use href="#w" x="188"/></g><g id="n35-4"><use href="#t" x="240"/></g><g id="n35-5"><use href="#w" x="292"/></g><g id="n35-6"><use href="#w" x="344"/></g><g id="n35-7"><use href="#w" x="396"/></g><g id="n35-8"><use href="#w" x="448"/></g><g id="n35-9"><use href="#w" x="500"/></g><g id="n35-10"><use href="#w" x="552"/></g><g id="n35-11"><use href="#w" x="604"/></g><g id="n35-12"><use href="#w" x="656"/></g><g id="n35-13"><use href="#w" x="708"/></g><g id="n35-14"><use href="#t" x="760"/></g><g id="n35-15"><use href="#w" x="812"/></g><g id="n35-16"><use href="#w" x="864"/></g><g id="n35-17"><use href="#t" x="916"/></g></g>
<g id="r36" transform="translate(0,1881.5)"><g id="n36-1"><use href="#W" x="84"/></g><g id="n36-2"><use href="#T" x="136"/></g><g id="n36-3"><use href="#W" x="188"/></g><g id="n36-4"><use href="#T" x="240"/></g><g id="n36-5"><use href="#T" x="292"/></g><g id="n36-6"><use href="#T" x="344"/></g><g id="n36-7"><use href="#T" x="396"/></g><g id="n36-8"><use href="#T" x="448"/></g><g id="n36-9"><use href="#B" x="500"/></g><g id="n36-10"><use href="#T" x="552"/></g><g id="n36-11"><use href="#T" x="604"/></g><g id="n36-12"><use href="#T" x="656"/></g><g id="n36-13"><use href="#T" x="708"/></g><g id="n36-14"><use href="#T" x="760"/></g><g id="n36-15"><use href="#W" x="812"/></g><g id="n36-16"><use href="#T" x="864"/></g><g id="n36-17"><use href="#W" x="916"/></g></g>
<g id="r37" transform="translate(0,1933.5)"><g id="n37-1"><use href="#t" x="84"/></g><g id="n37-2"><use href="#w" x="136"/></g><g id="n37-3"><use href="#w" x="188"/></g><g id="n37-4"><use href="#t" x="240"/></g><g id="n37-5"><use href="#w" x="292"/></g><g id="n37-6"><use href="#w" x="344"/></g><g id="n37-7"><use href="#w" x="396"/></g><g id="n37-8"><use href="#w" x="448"/></g><g id="n37-9"><use href="#w" x="500"/></g><g id="n37-10"><use href="#w" x="552"/></g><g id="n37-11"><use href="#w" x="604"/></g><g id="n37-12"><use href="#t" x="656"/></g><g id="n37-13"><use href="#t" x="708"/></g><g id="n37-14"><use href="#t" x="760"/></g><g id="n37-15"><use href="#w" x="812"/></g><g id="n37-16"><use href="#w" x="864"/></g><g id="n37-17"><use href="#t" x="916"/></g></g>
<g id="r38" transform="translate(0,1985.5)"><g id="n38-1"><use href="#W" x="84"/></g><g id="n38-2"><use href="#T" x="136"/></g><g id="n38-3"><use href="#W" x="188"/></g><g id="n38-4"><use href="#T" x="240"/></g><g id="n38-5"><use href="#T" x="292"/></g><g id="n38-6"><use href="#T" x="344"/></g><g id="n38-7"><use href="#B" x="396"/></g><g id="n38-8"><use href="#W" x="448"/></g><g id="n38-9"><use href="#T" x="500"/></g><g id="n38-10"><use href="#T" x="552"/></g><g id="n38-11"><use href="#B" x="604"/></g><g id="n38-12"><use href="#W" x="656"/></g><g id="n38-13"><use href="#T" x="708"/></g><g id="n38-14"><use href="#T" x="760"/></g><g id="n38-15"><use href="#W" x="812"/></g><g id="n38-16"><use href="#T" x="864"/></g><g id="n38-17"><use href="#W" x="916"/></g></g>
<g id="r39" transform="translate(0,2037.5)"><g id="n39-1"><use href="#t" x="84"/></g><g id="n39-2"><use href="#w" x="136"/></g><g id="n39-3"><use href="#w" x="188"/></g><g id="n39-4"><use href="#t" x="240"/></g><g id="n39-5"><use href="#t" x="292"/></g><g id="n39-6"><use href="#b" x="344"/></g><g id="n39-7"><use href="#t" x="396"/></g><g id="n39-8"><use href="#w" x="448"/></g><g id="n39-9"><use href="#t" x="500"/></g><g id="n39-10"><use href="#t" x="552"/></g><g id="n39-11"><use href="#t" x="604"/></g><g id="n39-12"><use href="#b" x="656"/></g><g id="n39-13"><use href="#w" x="708"/></g><g id="n39-14"><use href="#t" x="760"/></g><g id="n39-15"><use href="#w" x="812"/></g><g id="n39-16"><use href="#w" x="864"/></g><g id="n39-17"><use href="#t" x="916"/></g></g>
<g id="r40" transform="translate(0,2089.5)"><g id="n40-1"><use href="#W" x="84"/></g><g id="n40-2"><use href="#T" x="136"/></g><g id="n40-3"><use href="#W" x="188"/></g><g id="n40-4"><use href="#T" x="240"/></g><g id="n40-5"><use href="#B" x="292"/></g><g id="n40-6"><use href="#T" x="344"/></g><g id="n40-7"><use href="#T" x="396"/></g><g id="n40-8"><use href="#W" x="448"/></g><g id="n40-9"><use href="#T" x="500"/></g><g id="n40-10"><use href="#T" x="552"/></g><g id="n40-11"><use href="#T" x="604"/></g><g id="n40-12"><use href="#W" x="656"/></g><g id="n40-13"><use href="#B" x="708"/></g><g id="n40-14"><use href="#T" x="760"/></g><g id="n40-15"><use href="#W" x="812"/></g><g id="n40-16"><use href="#T" x="864"/></g><g id="n40-17"><use href="#W" x="916"/></g></g>
<g id="r41" transform="translate(0,2141.5)"><g id="n41-1"><use href="#t" x="84"/></g><g id="n41-2"><use href="#w" x="136"/></g><g id="n41-3"><use href="#w" x="188"/></g><g id="n41-4"><use href="#b" x="240"/></g><g id="n41-5"><use href="#w" x="292"/></g><g id="n41-6"><use href="#w" x="344"/></g><g id="n41-7"><use href="#w" x="396"/></g><g id="n41-8"><use href="#w" x="448"/></g><g id="n41-9"><use href="#w" x="500"/></g><g id="n41-10"><use href="#w" x="552"/></g><g id="n41-11"><use href="#w" x="604"/></g><g id="n41-12"><use href="#t" x="656"/></g><g id="n41-13"><use href="#t" x="708"/></g><g id="n41-14"><use href="#b" x="760"/></g><g id="n41-15"><use href="#w" x="812"/></g><g id="n41-16"><use href="#w" x="864"/></g><g id="n41-17"><use href="#t" x="916"/></g></g>
<g id="r42" transform="translate(0,2193.5)"><g id="n42-1"><use href="#W" x="84"/></g><g id="n42-2"><use href="#T" x="136"/></g><g id="n42-3"><use href="#W" x="188"/></g><g id="n42-4"><use href="#T" x="240"/></g><g id="n42-5"><use href="#B" x="292"/></g><g id="n42-6"><use href="#T" x="344"/></g><g id="n42-7"><use href="#T" x="396"/></g><g id="n42-8"><use href="#T" x="448"/></g><g id="n42-9"><use href="#T" x="500"/></g><g id="n42-10"><use href="#T" x="552"/></g><g id="n42-11"><use href="#T" x="604"/></g><g id="n42-12"><use href="#T" x="656"/></g><g id="n42-13"><use href="#B" x="708"/></g><g id="n42-14"><use href="#T" x="760"/></g><g id="n42-15"><use href="#W" x="812"/></g><g id="n42-16"><use href="#T" x="864"/></g><g id="n42-17"><use href="#W" x="916"/></g></g>
<g id="r43" transform="translate(0,2245.5)"><g id="n43-1"><use href="#t" x="84"/></g><g id="n43-2"><use href="#w" x="136"/></g><g id="n43-3"><use href="#w" x="188"/></g><g id="n43-4"><use href="#t" x="240"/></g><g id="n43-5"><use href="#w" x="292"/></g><g id="n43-6"><use href="#w" x="344"/></g><g id="n43-7"><use href="#w" x="396"/></g><g id="n43-8"><use href="#w" x="448"/></g><g id="n43-9"><use href="#w" x="500"/></g><g id="n43-10"><use href="#w" x="552"/></g><g id="n43-11"><use href="#w" x="604"/></g><g id="n43-12"><use href="#w" x="656"/></g><g id="n43-13"><use href="#w" x="708"/></g><g id="n43-14"><use href="#t" x="760"/></g><g id="n43-15"><use href="#w" x="812"/></g><g id="n43-16"><use href="#w" x="864"/></g><g id="n43-17"><use href="#t" x="916"/></g></g>
<g id="r44" transform="translate(0,2297.5)"><g id="n44-1"><use href="#W" x="84"/></g><g id="n44-2"><use href="#T" x="136"/></g><g id="n44-3"><use href="#W" x="188"/></g><g id="n44-4"><use href="#T" x="240"/></g><g id="n44-5"><use href="#T" x="292"/></g><g id="n44-6"><use href="#T" x="344"/></g><g id="n44-7"><use href="#B" x="396"/></g><g id="n44-8"><use href="#T" x="448"/></g><g id="n44-9"><use href="#T" x="500"/></g><g id="n44-10"><use href="#T" x="552"/></g><g id="n44-11"><use href="#B" x="604"/></g><g id="n44-12"><use href="#W" x="656"/></g><g id="n44-13"><use href="#W" x="708"/></g><g id="n44-14"><use href="#T" x="760"/></g><g id="n44-15"><use href="#W" x="812"/></g><g id="n44-16"><use href="#T" x="864"/></g><g id="n44-17"><use href="#W" x="916"/></g></g>
<g id="r45" transform="translate(0,2349.5)"><g id="n45-1"><use href="#t" x="84"/></g><g id="n45-2"><use href="#w" x="136"/></g><g id="n45-3"><use href="#w" x="188"/></g><g id="n45-4"><use href="#t" x="240"/></g><g id="n45-5"><use href="#t" x="292"/></g><g id="n45-6"><use href="#t" x="344"/></g><g id="n45-7"><use href="#w" x="396"/></g><g id="n45-8"><use href="#w" x="448"/></g><g id="n45-9"><use href="#w" x="500"/></g><g id="n45-10"><use href="#w" x="552"/></g><g id="n45-11"><use href="#w" x="604"/></g><g id="n45-12"><use href="#t" x="656"/></g><g id="n45-13"><use href="#t" x="708"/></g><g id="n45-14"><use href="#t" x="760"/></g><g id="n45-15"><use href="#w" x="812"/></g><g id="n45-16"><use href="#w" x="864"/></g><g id="n45-17"><use href="#t" x="916"/></g></g>
<g id="r46" transform="translate(0,2401.5)"><g id="n46-1"><use href="#W" x="84"/></g><g id="n46-2"><use href="#T" x="136"/></g><g id="n46-3"><use href="#W" x="188"/></g><g id="n46-4"><use href="#T" x="240"/></g><g id="n46-5"><use href="#W" x="292"/></g><g id="n46-6"><use href="#W" x="344"/></g><g id="n46-7"><use href="#T" x="396"/></g><g id="n46-8"><use href="#T" x="448"/></g><g id="n46-9"><use href="#B" x="500"/></g><g id="n46-10"><use href="#T" x="552"/></g><g id="n46-11"><use href="#T" x="604"/></g><g id="n46-12"><use href="#T" x="656"/></g><g id="n46-13"><use href="#T" x="708"/></g><g id="n46-14"><use href="#T" x="760"/></g><g id="n46-15"><use href="#W" x="812"/></g><g id="n46-16"><use href="#T" x="864"/></g><g id="n46-17"><use href="#W" x="916"/></g></g>
<g id="r47" transform="translate(0,2453.5)"><g id="n47-1"><use href="#t" x="84"/></g><g id="n47-2"><use href="#w" x="136"/></g><g id="n47-3"><use href="#w" x="188"/></g><g id="n47-4"><use href="#t" x="240"/></g><g id="n47-5"><use href="#w" x="292"/></g><g id="n47-6"><use href="#w" x="344"/></g><g id="n47-7"><use href="#w" x="396"/></g><g id="n47-8"><use href="#w" x="448"/></g><g id="n47-9"><use href="#w" x="500"/></g><g id="n47-10"><use href="#w" x="552"/></g><g id="n47-11"><use href="#w" x="604"/></g><g id="n47-12"><use href="#w" x="656"/></g><g id="n47-13"><use href="#w" x="708"/></g><g id="n47-14"><use href="#t" x="760"/></g><g id="n47-15"><use href="#w" x="812"/></g><g id="n47-16"><use href="#w" x="864"/></g><g id="n47-17"><use href="#t" x="916"/></g></g>
<g id="r48" transform="translate(0,2505.5)"><g id="n48-1"><use href="#W" x="84"/></g><g id="n48-2"><use href="#T" x="136"/></g><g id="n48-3"><use href="#W" x="188"/></g><g id="n48-4"><use href="#T" x="240"/></g><g id="n48-5"><use href="#T" x="292"/></g><g id="n48-6"><use href="#T" x="344"/></g><g id="n48-7"><use href="#B" x="396"/></g><g id="n48-8"><use href="#T" x="448"/></g><g id="n48-9"><use href="#T" x="500"/></g><g id="n48-10"><use href="#T" x="552"/></g><g id="n48-11"><use href="#B" x="604"/></g><g id="n48-12"><use href="#T" x="656"/></g><g id="n48-13"><use href="#T" x="708"/></g><g id="n48-14"><use href="#T" x="760"/></g><g id="n48-15"><use href="#W" x="812"/></g><g id="n48-16"><use href="#T" x="864"/></g><g id="n48-17"><use href="#W" x="916"/></g></g>
<g id="r49" transform="translate(0,2557.5)"><g id="n49-1"><use href="#t" x="84"/></g><g id="n49-2"><use href="#w" x="136"/></g><g id="n49-3"><use href="#w" x="188"/></g><g id="n49-4"><use href="#t" x="240"/></g><g id="n49-5"><use href="#t" x="292"/></g><g id="n49-6"><use href="#b" x="344"/></g><g id="n49-7"><use href="#t" x="396"/></g><g id="n49-8"><use href="#t" x="448"/></g><g id="n49-9"><use href="#t" x="500"/></g><g id="n49-10"><use href="#t" x="552"/></g><g id="n49-11"><use href="#t" x="604"/></g><g id="n49-12"><use href="#b" x="656"/></g><g id="n49-13"><use href="#t" x="708"/></g><g id="n49-14"><use href="#t" x="760"/></g><g id="n49-15"><use href="#w" x="812"/></g><g id="n49-16"><use href="#w" x="864"/></g><g id="n49-17"><use href="#t" x="916"/></g></g>
<g id="r50" transform="translate(0,2609.5)"><g id="n50-1"><use href="#W" x="84"/></g><g id="n50-2"><use href="#T" x="136"/></g><g id="n50-3"><use href="#W" x="188"/></g><g id="n50-4"><use href="#T" x="240"/></g><g id="n50-5"><use href="#B" x="292"/></g><g id="n50-6"><use href="#T" x="344"/></g><g id="n50-7"><use href="#T" x="396"/></g><g id="n50-8"><use href="#T" x="448"/></g><g id="n50-9"><use href="#T" x="500"/></g><g id="n50-10"><use href="#T" x="552"/></g><g id="n50-11"><use href="#T" x="604"/></g><g id="n50-12"><use href="#T" x="656"/></g><g id="n50-13"><use href="#B" x="708"/></g><g id="n50-14"><use href="#T" x="760"/></g><g id="n50-15"><use href="#W" x="812"/></g><g id="n50-16"><use href="#T" x="864"/></g><g id="n50-17"><use href="#W" x="916"/></g></g>
<g id="r51" transform="translate(0,2661.5)"><g id="n51-1"><use href="#t" x="84"/></g><g id="n51-2"><use href="#w" x="136"/></g><g id="n51-3"><use href="#w" x="188"/></g><g id="n51-4"><use href="#b" x="240"/></g><g id="n51-5"><use href="#w" x="292"/></g><g id="n51-6"><use href="#w" x="344"/></g><g id="n51-7"><use href="#w" x="396"/></g><g id="n51-8"><use href="#w" x="448"/></g><g id="n51-9"><use href="#w" x="500"/></g><g id="n51-10"><use href="#w" x="552"/></g><g id="n51-11"><use href="#w" x="604"/></g><g id="n51-12"><use href="#w" x="656"/></g><g id="n51-13"><use href="#w" x="708"/></g><g id="n51-14"><use href="#b" x="760"/></g><g id="n51-15"><use href="#w" x="812"/></g><g id="n51-16"><use href="#w" x="864"/></g><g id="n51-17"><use href="#t" x="916"/></g></g>
<g id="r52" transform="translate(0,2713.5)"><g id="n52-1"><use href="#W" x="84"/></g><g id="n52-2"><use href="#T" x="136"/></g><g id="n52-3"><use href="#W" x="188"/></g><g id="n52-4"><use href="#T" x="240"/></g><g id="n52-5"><use href="#W" x="292"/></g><g id="n52-6"><use href="#T" x="344"/></g><g id="n52-7"><use href="#T" x="396"/></g><g id="n52-8"><use href="#T" x="448"/></g><g id="n52-9"><use href="#T" x="500"/></g><g id="n52-10"><use href="#T" x="552"/></g><g id="n52-11"><use href="#T" x="604"/></g><g id="n52-12"><use href="#T" x="656"/></g><g id="n52-13"><use href="#W" x="708"/></g><g id="n52-14"><use href="#T" x="760"/></g><g id="n52-15"><use href="#W" x="812"/></g><g id="n52-16"><use href="#T" x="864"/></g><g id="n52-17"><use href="#W" x="916"/></g></g>
<g id="r53" transform="translate(0,2765.5)"><g id="n53-1"><use href="#t" x="84"/></g><g id="n53-2"><use href="#w" x="136"/></g><g id="n53-3"><use href="#w" x="188"/></g><g id="n53-4"><use href="#t" x="240"/></g><g id="n53-5"><use href="#w" x="292"/></g><g id="n53-6"><use href="#b" x="344"/></g><g id="n53-7"><use href="#t" x="396"/></g><g id="n53-8"><use href="#t" x="448"/></g><g id="n53-9"><use href="#t" x="500"/></g><g id="n53-10"><use href="#t" x="552"/></g><g id="n53-11"><use href="#t" x="604"/></g><g id="n53-12"><use href="#b" x="656"/></g><g id="n53-13"><use href="#w" x="708"/></g><g id="n53-14"><use href="#t" x="760"/></g><g id="n53-15"><use href="#w" x="812"/></g><g id="n53-16"><use href="#w" x="864"/></g><g id="n53-17"><use href="#t" x="916"/></g></g>
<g id="r54" transform="translate(0,2817.5)"><g id="n54-1"><use href="#W" x="84"/></g><g id="n54-2"><use href="#T" x="136"/></g><g id="n54-3"><use href="#W" x="188"/></g><g id="n54-4"><use href="#T" x="240"/></g><g id="n54-5"><use href="#W" x="292"/></g><g id="n54-6"><use href="#T" x="344"/></g><g id="n54-7"><use href="#B" x="396"/></g><g id="n54-8"><use href="#T" x="448"/></g><g id="n54-9"><use href="#T" x="500"/></g><g id="n54-10"><use href="#T" x="552"/></g><g id="n54-11"><use href="#B" x="604"/></g><g id="n54-12"><use href="#T" x="656"/></g><g id="n54-13"><use href="#W" x="708"/></g><g id="n54-14"><use href="#T" x="760"/></g><g id="n54-15"><use href="#W" x="812"/></g><g id="n54-16"><use href="#T" x="864"/></g><g id="n54-17"><use href="#W" x="916"/></g></g>
<g id="r55" transform="translate(0,2869.5)"><g id="n55-1"><use href="#t" x="84"/></g><g id="n55-2"><use href="#w" x="136"/></g><g id="n55-3"><use href="#w" x="188"/></g><g id="n55-4"><use href="#t" x="240"/></g><g id="n55-5"><use href="#t" x="292"/></g><g id="n55-6"><use href="#w" x="344"/></g><g id="n55-7"><use href="#w" x="396"/></g><g id="n55-8"><use href="#w" x="448"/></g><g id="n55-9"><use href="#w" x="500"/></g><g id="n55-10"><use href="#w" x="552"/></g><g id="n55-11"><use href="#w" x="604"/></g><g id="n55-12"><use href="#w" x="656"/></g><g id="n55-13"><use href="#t" x="708"/></g><g id="n55-14"><use href="#t" x="760"/></g><g id="n55-15"><use href="#w" x="812"/></g><g id="n55-16"><use href="#w" x="864"/></g><g id="n55-17"><use href="#t" x="916"/></g></g>
<g id="r56" transform="translate(0,2921.5)"><g id="n56-1"><use href="#W" x="84"/></g><g id="n56-2"><use href="#T" x="136"/></g><g id="n56-3"><use href="#W" x="188"/></g><g id="n56-4"><use href="#T" x="240"/></g><g id="n56-5"><use href="#T" x="292"/></g><g id="n56-6"><use href="#T" x="344"/></g><g id="n56-7"><use href="#T" x="396"/></g><g id="n56-8"><use href="#T" x="448"/></g><g id="n56-9"><use href="#B" x="500"/></g><g id="n56-10"><use href="#T" x="552"/></g><g id="n56-11"><use href="#T" x="604"/></g><g id="n56-12"><use href="#T" x="656"/></g><g id="n56-13"><use href="#T" x="708"/></g><g id="n56-14"><use href="#T" x="760"/></g><g id="n56-15"><use href="#W" x="812"/></g><g id="n56-16"><use href="#T" x="864"/></g><g id="n56-17"><use href="#W" x="916"/></g></g>
<g id="r57" transform="translate(0,2973.5)"><g id="n57-1"><use href="#t" x="84"/></g><g id="n57-2"><use href="#w" x="136"/></g><g id="n57-3"><use href="#w" x="188"/></g><g id="n57-4"><use href="#t" x="240"/></g><g id="n57-5"><use href="#w" x="292"/></g><g id="n57-6"><use href="#w" x="344"/></g><g id="n57-7"><use href="#w" x="396"/></g><g id="n57-8"><use href="#w" x="448"/></g><g id="n57-9"><use href="#w" x="500"/></g><g id="n57-10"><use href="#w" x="552"/></g><g id="n57-11"><use href="#w" x="604"/></g><g id="n57-12"><use href="#w" x="656"/></g><g id="n57-13"><use href="#w" x="708"/></g><g id="n57-14"><use href="#t" x="760"/></g><g id="n57-15"><use href="#w" x="812"/></g><g id="n57-16"><use href="#w" x="864"/></g><g id="n57-17"><use href="#t" x="916"/></g></g>
<g id="r58" transform="translate(0,3025.5)"><g id="n58-1"><use href="#W" x="84"/></g><g id="n58-2"><use href="#T" x="136"/></g><g id="n58-3"><use href="#W" x="188"/></g><g id="n58-4"><use href="#T" x="240"/></g><g id="n58-5"><use href="#T" x="292"/></g><g id="n58-6"><use href="#T" x="344"/></g><g id="n58-7"><use href="#B" x="396"/></g><g id="n58-8"><use href="#T" x="448"/></g><g id="n58-9"><use href="#T" x="500"/></g><g id="n58-10"><use href="#T" x="552"/></g><g id="n58-11"><use href="#B" x="604"/></g><g id="n58-12"><use href="#T" x="656"/></g><g id="n58-13"><use href="#T" x="708"/></g><g id="n58-14"><use href="#T" x="760"/></g><g id="n58-15"><use href="#W" x="812"/></g><g id="n58-16"><use href="#T" x="864"/></g><g id="n58-17"><use href="#W" x="916"/></g></g>
<g id="r59" transform="translate(0,3077.5)"><g id="n59-1"><use href="#t" x="84"/></g><g id="n59-2"><use href="#w" x="136"/></g><g id="n59-3"><use href="#w" x="188"/></g><g id="n59-4"><use href="#t" x="240"/></g><g id="n59-5"><use href="#t" x="292"/></g><g id="n59-6"><use href="#w" x="344"/></g><g id="n59-7"><use href="#w" x="396"/></g><g id="n59-8"><use href="#w" x="448"/></g><g id="n59-9"><use href="#w" x="500"/></g><g id="n59-10"><use href="#w" x="552"/></g><g id="n59-11"><use href="#w" x="604"/></g><g id="n59-12"><use href="#t" x="656"/></g><g id="n59-13"><use href="#t" x="708"/></g><g id="n59-14"><use href="#t" x="760"/></g><g id="n59-15"><use href="#w" x="812"/></g><g id="n59-16"><use href="#w" x="864"/></g><g id="n59-17"><use href="#t" x="916"/></g></g>
<g id="r60" transform="translate(0,3129.5)"><g id="n60-1"><use href="#W" x="84"/></g><g id="n60-2"><use href="#T" x="136"/></g><g id="n60-3"><use href="#W" x="188"/></g><g id="n60-4"><use href="#T" x="240"/></g><g id="n60-5"><use href="#W" x="292"/></g><g id="n60-6"><use href="#T" x="344"/></g><g id="n60-7"><use href="#T" x="396"/></g><g id="n60-8"><use href="#T" x="448"/></g><g id="n60-9"><use href="#T" x="500"/></g><g id="n60-10"><use href="#T" x="552"/></g><g id="n60-11"><use href="#T" x="604"/></g><g id="n60-12"><use href="#T" x="656"/></g><g id="n60-13"><use href="#W" x="708"/></g><g id="n60-14"><use href="#T" x="760"/></g><g id="n60-15"><use href="#W" x="812"/></g><g id="n60-16"><use href="#T" x="864"/></g><g id="n60-17"><use href="#W" x="916"/></g></g>
<g id="r61" transform="translate(0,3181.5)"><g id="n61-1"><use href="#t" x="84"/></g><g id="n61-2"><use href="#w" x="136"/></g><g id="n61-3"><use href="#w" x="188"/></g><g id="n61-4"><use href="#b" x="240"/></g><g id="n61-5"><use href="#w" x="292"/></g><g id="n61-6"><use href="#t" x="344"/></g><g id="n61-7"><use href="#t" x="396"/></g><g id="n61-8"><use href="#t" x="448"/></g><g id="n61-9"><use href="#t" x="500"/></g><g id="n61-10"><use href="#t" x="552"/></g><g id="n61-11"><use href="#t" x="604"/></g><g id="n61-12"><use href="#t" x="656"/></g><g id="n61-13"><use href="#w" x="708"/></g><g id="n61-14"><use href="#b" x="760"/></g><g id="n61-15"><use href="#w" x="812"/></g><g id="n61-16"><use href="#w" x="864"/></g><g id="n61-17"><use href="#t" x="916"/></g></g>
<g id="r62" transform="translate(0,3233.5)"><g id="n62-1"><use href="#W" x="84"/></g><g id="n62-2"><use href="#T" x="136"/></g><g id="n62-3"><use href="#W" x="188"/></g><g id="n62-4"><use href="#T" x="240"/></g><g id="n62-5"><use href="#W" x="292"/></g><g id="n62-6"><use href="#T" x="344"/></g><g id="n62-7"><use href="#T" x="396"/></g><g id="n62-8"><use href="#T" x="448"/></g><g id="n62-9"><use href="#T" x="500"/></g><g id="n62-10"><use href="#T" x="552"/></g><g id="n62-11"><use href="#T" x="604"/></g><g id="n62-12"><use href="#T" x="656"/></g><g id="n62-13"><use href="#W" x="708"/></g><g id="n62-14"><use href="#T" x="760"/></g><g id="n62-15"><use href="#W" x="812"/></g><g id="n62-16"><use href="#T" x="864"/></g><g id="n62-17"><use href="#W" x="916"/></g></g>
<g id="r63" transform="translate(0,3285.5)"><g id="n63-1"><use href="#t" x="84"/></g><g id="n63-2"><use href="#w" x="136"/></g><g id="n63-3"><use href="#w" x="188"/></g><g id="n63-4"><use href="#t" x="240"/></g><g id="n63-5"><use href="#t" x="292"/></g><g id="n63-6"><use href="#w" x="344"/></g><g id="n63-7"><use href="#w" x="396"/></g><g id="n63-8"><use href="#w" x="448"/></g><g id="n63-9"><use href="#w" x="500"/></g><g id="n63-10"><use href="#w" x="552"/></g><g id="n63-11"><use href="#w" x="604"/></g><g id="n63-12"><use href="#w" x="656"/></g><g id="n63-13"><use href="#t" x="708"/></g><g id="n63-14"><use href="#t" x="760"/></g><g id="n63-15"><use href="#w" x="812"/></g><g id="n63-16"><use href="#w" x="864"/></g><g id="n63-17"><use href="#t" x="916"/></g></g>
<g id="r64" transform="translate(0,3337.5)"><g id="n64-1"><use href="#W" x="84"/></g><g id="n64-2"><use href="#T" x="136"/></g><g id="n64-3"><use href="#W" x="188"/></g><g id="n64-4"><use href="#T" x="240"/></g><g id="n64-5"><use href="#T" x="292"/></g><g id="n64-6"><use href="#T" x="344"/></g><g id="n64-7"><use href="#B" x="396"/></g><g id="n64-8"><use href="#T" x="448"/></g><g id="n64-9"><use href="#T" x="500"/></g><g id="n64-10"><use href="#T" x="552"/></g><g id="n64-11"><use href="#B" x="604"/></g><g id="n64-12"><use href="#T" x="656"/></g><g id="n64-13"><use href="#T" x="708"/></g><g id="n64-14"><use href="#T" x="760"/></g><g id="n64-15"><use href="#W" x="812"/></g><g id="n64-16"><use href="#T" x="864"/></g><g id="n64-17"><use href="#W" x="916"/></g></g>
<g id="r65" transform="translate(0,3389.5)"><g id="n65-1"><use href="#t" x="84"/></g><g id="n65-2"><use href="#w" x="136"/></g><g id="n65-3"><use href="#w" x="188"/></g><g id="n65-4"><use href="#t" x="240"/></g><g id="n65-5"><use href="#w" x="292"/></g><g id="n65-6"><use href="#w" x="344"/></g><g id="n65-7"><use href="#w" x="396"/></g><g id="n65-8"><use href="#w" x="448"/></g><g id="n65-9"><use href="#w" x="500"/></g><g id="n65-10"><use href="#w" x="552"/></g><g id="n65-11"><use href="#w" x="604"/></g><g id="n65-12"><use href="#w" x="656"/></g><g id="n65-13"><use href="#t" x="708"/></g><g id="n65-14"><use href="#t" x="760"/></g><g id="n65-15"><use href="#w" x="812"/></g><g id="n65-16"><use href="#w" x="864"/></g><g id="n65-17"><use href="#t" x="916"/></g></g>
<g id="r66" transform="translate(0,3441.5)"><g id="n66-1"><use href="#W" x="84"/></g><g id="n66-2"><use href="#T" x="136"/></g><g id="n66-3"><use href="#W" x="188"/></g><g id="n66-4"><use href="#T" x="240"/></g><g id="n66-5"><use href="#T" x="292"/></g><g id="n66-6"><use href="#T" x="344"/></g><g id="n66-7"><use href="#T" x="396"/></g><g id="n66-8"><use href="#T" x="448"/></g><g id="n66-9"><use href="#W" x="500"/></g><g id="n66-10"><use href="#T" x="552"/></g><g id="n66-11"><use href="#T" x="604"/></g><g id="n66-12"><use href="#T" x="656"/></g><g id="n66-13"><use href="#W" x="708"/></g><g id="n66-14"><use href="#T" x="760"/></g><g id="n66-15"><use href="#W" x="812"/></g><g id="n66-16"><use href="#T" x="864"/></g><g id="n66-17"><use href="#W" x="916"/></g></g>
<g id="r67" transform="translate(0,3493.5)"><g id="n67-1"><use href="#t" x="84"/></g><g id="n67-2"><use href="#w" x="136"/></g><g id="n67-3"><use href="#w" x="188"/></g><g id="n67-4"><use href="#t" x="240"/></g><g id="n67-5"><use href="#t" x="292"/></g><g id="n67-6"><use href="#t" x="344"/></g><g id="n67-7"><use href="#t" x="396"/></g><g id="n67-8"><use href="#b" x="448"/></g><g id="n67-9"><use href="#w" x="500"/></g><g id="n67-10"><use href="#b" x="552"/></g><g id="n67-11"><use href="#t" x="604"/></g><g id="n67-12"><use href="#t" x="656"/></g><g id="n67-13"><use href="#w" x="708"/></g><g id="n67-14"><use href="#t" x="760"/></g><g id="n67-15"><use href="#w" x="812"/></g><g id="n67-16"><use href="#w" x="864"/></g><g id="n67-17"><use href="#t" x="916"/></g></g>
<g id="r68" transform="translate(0,3545.5)"><g id="n68-1"><use href="#W" x="84"/></g><g id="n68-2"><use href="#T" x="136"/></g><g id="n68-3"><use href="#W" x="188"/></g><g id="n68-4"><use href="#T" x="240"/></g><g id="n68-5"><use href="#T" x="292"/></g><g id="n68-6"><use href="#T" x="344"/></g><g id="n68-7"><use href="#B" x="396"/></g><g id="n68-8"><use href="#T" x="448"/></g><g id="n68-9"><use href="#W" x="500"/></g><g id="n68-10"><use href="#T" x="552"/></g><g id="n68-11"><use href="#B" x="604"/></g><g id="n68-12"><use href="#T" x="656"/></g><g id="n68-13"><use href="#W" x="708"/></g><g id="n68-14"><use href="#T" x="760"/></g><g id="n68-15"><use href="#W" x="812"/></g><g id="n68-16"><use href="#T" x="864"/></g><g id="n68-17"><use href="#W" x="916"/></g></g>
<g id="r69" transform="translate(0,3597.5)"><g id="n69-1"><use href="#t" x="84"/></g><g id="n69-2"><use href="#w" x="136"/></g><g id="n69-3"><use href="#w" x="188"/></g><g id="n69-4"><use href="#t" x="240"/></g><g id="n69-5"><use href="#w" x="292"/></g><g id="n69-6"><use href="#w" x="344"/></g><g id="n69-7"><use href="#w" x="396"/></g><g id="n69-8"><use href="#w" x="448"/></g><g id="n69-9"><use href="#t" x="500"/></g><g id="n69-10"><use href="#w" x="552"/></g><g id="n69-11"><use href="#w" x="604"/></g><g id="n69-12"><use href="#w" x="656"/></g><g id="n69-13"><use href="#t" x="708"/></g><g id="n69-14"><use href="#t" x="760"/></g><g id="n69-15"><use href="#w" x="812"/></g><g id="n69-16"><use href="#w" x="864"/></g><g id="n69-17"><use href="#t" x="916"/></g></g>
<g id="r70" transform="translate(0,3649.5)"><g id="n70-1"><use href="#W" x="84"/></g><g id="n70-2"><use href="#T" x="136"/></g><g id="n70-3"><use href="#W" x="188"/></g><g id="n70-4"><use href="#T" x="240"/></g><g id="n70-5"><use href="#B" x="292"/></g><g id="n70-6"><use href="#T" x="344"/></g><g id="n70-7"><use href="#T" x="396"/></g><g id="n70-8"><use href="#T" x="448"/></g><g id="n70-9"><use href="#T" x="500"/></g><g id="n70-10"><use href="#T" x="552"/></g><g id="n70-11"><use href="#T" x="604"/></g><g id="n70-12"><use href="#T" x="656"/></g><g id="n70-13"><use href="#B" x="708"/></g><g id="n70-14"><use href="#T" x="760"/></g><g id="n70-15"><use href="#W" x="812"/></g><g id="n70-16"><use href="#T" x="864"/></g><g id="n70-17"><use href="#W" x="916"/></g></g>
<g id="r71" transform="translate(0,3701.5)"><g id="n71-1"><use href="#t" x="84"/></g><g id="n71-2"><use href="#w" x="136"/></g><g id="n71-3"><use href="#w" x="188"/></g><g id="n71-4"><use href="#b" x="240"/></g><g id="n71-5"><use href="#t" x="292"/></g><g id="n71-6"><use href="#t" x="344"/></g><g id="n71-7"><use href="#t" x="396"/></g><g id="n71-8"><use href="#t" x="448"/></g><g id="n71-9"><use href="#t" x="500"/></g><g id="n71-10"><use href="#t" x="552"/></g><g id="n71-11"><use href="#t" x="604"/></g><g id="n71-12"><use href="#t" x="656"/></g><g id="n71-13"><use href="#t" x="708"/></g><g id="n71-14"><use href="#b" x="760"/></g><g id="n71-15"><use href="#w" x="812"/></g><g id="n71-16"><use href="#w" x="864"/></g><g id="n71-17"><use href="#t" x="916"/></g></g>
</g>
<text x="500" y="1913" class="wm" text-anchor="middle" textLength="154" lengthAdjust="spacingAndGlyphs">BRACELETBOOK.COM</text>
</svg>
